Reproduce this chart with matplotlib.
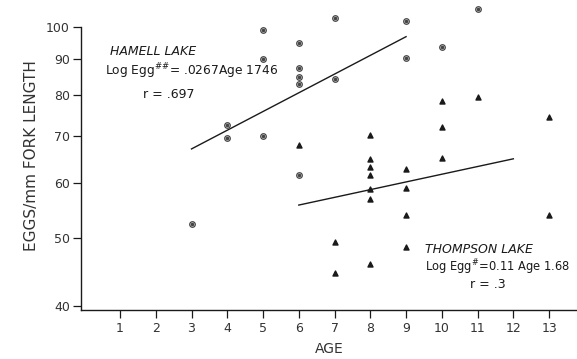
import matplotlib
matplotlib.use("Agg")
import matplotlib.pyplot as plt
import numpy as np

# Data
hamell_age = [3, 4, 4, 5, 5, 5, 6, 6, 6, 6, 6, 7, 7, 9, 9, 10, 11]
hamell_eggs = [52.4, 72.5, 69.5, 99.2, 89.9, 70.0, 95.0, 87.5, 85.0, 83.0, 61.5,
               103.0, 84.3, 102.0, 90.3, 93.6, 106.0]

thompson_age = [6, 7, 7, 8, 8, 8, 8, 8, 8, 8, 9, 9, 9, 9, 10, 10, 10, 11, 13, 13]
thompson_eggs = [67.9, 49.3, 44.6, 70.1, 64.8, 63.1, 61.5, 58.7, 56.8, 45.9,
                 62.7, 58.9, 54.0, 48.5, 78.4, 72.0, 65.0, 79.5, 74.4, 54.0]

# Regression: log10(eggs) = slope*age + intercept
hamell_fit = (0.0267, 1.746)
hamell_range = (3, 9)
thompson_fit = (0.011, 1.68)
thompson_range = (6, 12)

xticks = list(range(1, 14))
xticklabels = [str(v) for v in xticks]
yticks = [40, 50, 60, 70, 80, 90, 100]
yticklabels = [str(v) for v in yticks]

ink = "#1a1a1a"
fig = plt.figure(figsize=(5.77, 3.59), dpi=100)
ax = fig.add_axes([81 / 577, 49 / 359, 496 / 577, 310 / 359])
ax.set_yscale("log")
ax.set_xlim(-0.09, 13.78)
ax.set_ylim(39.47, 109.3)

for k in ("top", "right"):
    ax.spines[k].set_visible(False)
for k in ("left", "bottom"):
    ax.spines[k].set_color(ink)
    ax.spines[k].set_linewidth(1.0)
ax.spines["left"].set_bounds(39.47, 100)

ax.set_xticks(xticks)
ax.set_xticklabels(xticklabels)
ax.set_yticks(yticks)
ax.set_yticklabels(yticklabels)
ax.yaxis.set_minor_locator(matplotlib.ticker.NullLocator())
ax.tick_params(axis="both", direction="out", length=6, width=0.9, color=ink,
               labelsize=9, labelcolor="#333333")
ax.tick_params(axis="x", pad=3)
ax.tick_params(axis="y", pad=2)

# Points
ax.scatter(hamell_age, hamell_eggs, s=16, marker="o", facecolors="white",
           edgecolors="#444444", linewidths=0.9, zorder=3)
ax.scatter(hamell_age, hamell_eggs, s=2.5, marker="o", color="#444444", zorder=4)
ax.scatter(thompson_age, thompson_eggs, s=13, marker="^", color=ink, zorder=3)

# Regression lines
for (m, b), (a0, a1) in ((hamell_fit, hamell_range), (thompson_fit, thompson_range)):
    xs = np.array([a0, a1])
    ax.plot(xs, 10 ** (m * xs + b), color=ink, lw=1.0, zorder=2)

# Annotations
ax.text(0.72, 92.4, "HAMELL LAKE", fontsize=9, style="italic", color=ink,
        va="center", ha="left")
ax.text(0.58, 86.6, r"Log Egg$^{\#\#}$= .0267Age 1746", fontsize=8.8, color=ink,
        va="center", ha="left")
ax.text(1.64, 80.0, "r = .697", fontsize=9, color=ink, va="center", ha="left")

ax.text(9.54, 48.1, "THOMPSON LAKE", fontsize=9, style="italic", color=ink,
        va="center", ha="left")
ax.text(9.52, 45.5, r"Log Egg$^{\#}$=0.11 Age 1.68", fontsize=8.3, color=ink,
        va="center", ha="left")
ax.text(10.8, 42.9, "r = .3", fontsize=9, color=ink, va="center", ha="left")

ax.set_xlabel("AGE", fontsize=10, color="#333333", labelpad=5)
fig.text(32 / 577, 1 - 156 / 359, "EGGS/mm FORK LENGTH", rotation=90,
         fontsize=11, color="#333333", va="center", ha="center")

fig.savefig("out.png", dpi=100)
